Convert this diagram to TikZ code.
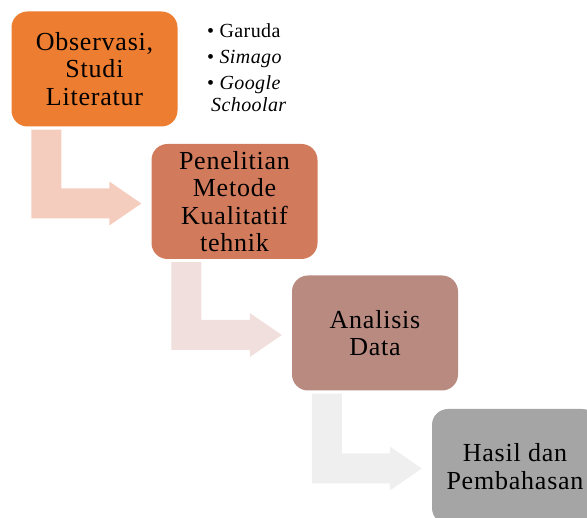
\documentclass[tikz,border=0pt]{standalone}
\usepackage{fontspec}
\setmainfont{Liberation Serif}
\usetikzlibrary{calc}
\definecolor{cA}{HTML}{ED7D31}
\definecolor{cB}{HTML}{D17A5C}
\definecolor{cC}{HTML}{B98A80}
\definecolor{cD}{HTML}{A5A5A5}
\definecolor{aA}{HTML}{F5CDBE}
\definecolor{aB}{HTML}{F0DFDC}
\definecolor{aC}{HTML}{EFEFEF}
\newcommand\bentarrow[3]{%
  \fill[#3] let \p1=(#1.south west), \p2=(#2.west) in
    (\x1+20pt,\y1-3pt) -- (\x1+50pt,\y1-3pt) -- (\x1+50pt,\y2-2pt+15pt)
    -- (\x2-42pt,\y2-2pt+15pt) -- (\x2-42pt,\y2-2pt+22pt) -- (\x2-10pt,\y2-2pt)
    -- (\x2-42pt,\y2-2pt-22pt) -- (\x2-42pt,\y2-2pt-15pt) -- (\x1+20pt,\y2-2pt-15pt) -- cycle;}
\tikzset{
  stepbox/.style={rounded corners=16pt, minimum width=166pt, minimum height=115pt,
    inner sep=0pt, align=center, text=black,
    font=\addfontfeature{LetterSpace=3}\fontsize{26}{27.5}\selectfont},
  bul/.style={anchor=base west, inner sep=0pt,
    font=\addfontfeature{LetterSpace=2}\fontsize{20}{22}\selectfont}
}
\begin{document}
\begin{tikzpicture}[x=1pt,y=-1pt]
\useasboundingbox (0,0) rectangle (587,518);
\node[stepbox, fill=cA] (b1) at (94.5,69) {Observasi,\\Studi\\Literatur};
\node[stepbox, fill=cB] (b2) at (234.5,201.5) {Penelitian\\Metode\\Kualitatif\\tehnik};
\node[stepbox, fill=cC] (b3) at (375,333) {Analisis\\Data};
\node[stepbox, fill=cD] (b4) at (515,466.5) {Hasil dan\\Pembahasan};
\bentarrow{b1}{b2}{aA}
\bentarrow{b2}{b3}{aB}
\bentarrow{b3}{b4}{aC}
\node[bul] (l1) at (207,38) {• Garuda};
\node[bul] (l2) at (207,64) {• \textit{Simago}};
\node[bul] (l3) at (207,90) {• \textit{Google}};
\node[bul] (l4) at (211,112) {\textit{Schoolar}};
\end{tikzpicture}
\end{document}
